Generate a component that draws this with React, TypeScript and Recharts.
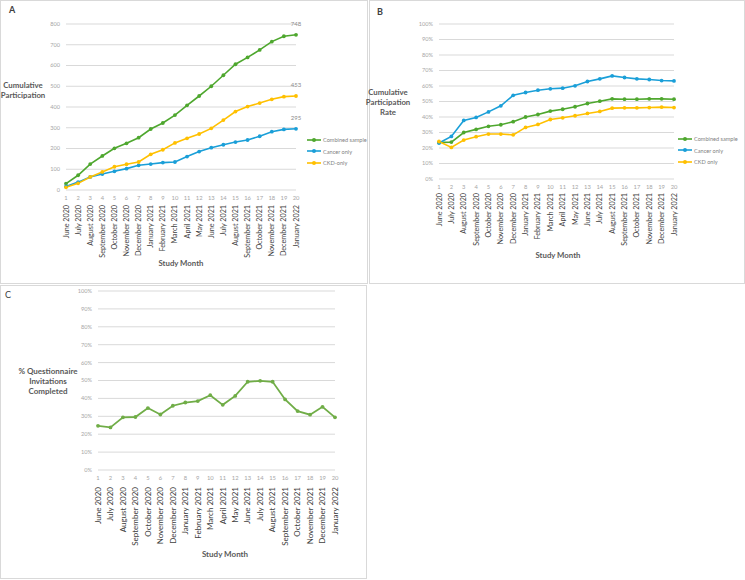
import React from 'react';
import { LineChart, Line, XAxis, YAxis, CartesianGrid, LabelList } from 'recharts';

const studyMonths = [1, 2, 3, 4, 5, 6, 7, 8, 9, 10, 11, 12, 13, 14, 15, 16, 17, 18, 19, 20];
const monthNames = [
  'June 2020', 'July 2020', 'August 2020', 'September 2020', 'October 2020', 'November 2020',
  'December 2020', 'January 2021', 'February 2021', 'March 2021', 'April 2021', 'May 2021',
  'June 2021', 'July 2021', 'August 2021', 'September 2021', 'October 2021', 'November 2021',
  'December 2021', 'January 2022',
];

// Panel A - cumulative participants
const combinedCumulative = [31, 71, 125, 164, 201, 225, 252, 294, 323, 361, 408, 453, 500, 553, 606, 639, 675, 715, 741, 748];
const cancerCumulative = [17, 38, 63, 77, 90, 103, 119, 125, 132, 135, 161, 185, 204, 218, 231, 241, 259, 281, 292, 295];
const ckdCumulative = [13, 32, 63, 87, 112, 124, 135, 172, 194, 227, 249, 270, 297, 337, 378, 402, 419, 437, 450, 453];
const countTicks = [0, 100, 200, 300, 400, 500, 600, 700, 800];

// Panel B - cumulative participation rate (%)
const combinedRate = [23.6, 23.8, 30, 32, 34, 35, 37, 40, 41.6, 43.8, 45, 46.6, 48.7, 50.2, 51.7, 51.5, 51.5, 51.7, 51.7, 51.5];
const cancerRate = [23.2, 27.5, 37.8, 39.7, 43.3, 47.2, 54, 55.8, 57.3, 58.2, 58.6, 60.1, 62.9, 64.6, 66.5, 65.5, 64.6, 64.2, 63.5, 63.3];
const ckdRate = [24.2, 20.4, 25.1, 27.3, 29, 29, 28.5, 33.3, 35.2, 38.4, 39.5, 40.8, 42.3, 43.6, 45.7, 45.9, 45.9, 46.1, 46.4, 46.1];

// Panel C - % questionnaire invitations completed
const completedPct = [24.7, 23.8, 29.4, 29.6, 34.6, 31, 35.9, 37.7, 38.5, 41.8, 36.4, 41.4, 49.3, 49.8, 49.3, 39.4, 32.9, 30.9, 35.3, 29.4];
const pctTicks = [0, 10, 20, 30, 40, 50, 60, 70, 80, 90, 100];

const seriesNames = ['Combined sample', 'Cancer only', 'CKD only'];
const seriesNamesA = ['Combined sample', 'Cancer only', 'CKD-only'];

const GREEN = '#4ea72e';
const BLUE = '#1a9fd8';
const YELLOW = '#ffc000';
const GREEN_C = '#70ad47';
const GRID = '#d9d9d9';
const TITLE = '#595959';
const FONT = 'Lato, "Open Sans", sans-serif';

const dataA = studyMonths.map((m, i) => ({
  m, combined: combinedCumulative[i], cancer: cancerCumulative[i], ckd: ckdCumulative[i],
}));
const dataB = studyMonths.map((m, i) => ({
  m, combined: combinedRate[i], cancer: cancerRate[i], ckd: ckdRate[i],
}));
const dataC = studyMonths.map((m, i) => ({ m, completed: completedPct[i] }));

const MonthTick = (props: any) => {
  const { x, y, payload, index, numGap, monthGap, fs } = props;
  const my = y + monthGap;
  return (
    <g>
      <text x={x} y={y + numGap} textAnchor="middle" dy="0.35em" fontSize={5.8} fill="#a6a6a6" fontFamily={FONT}>
        {payload.value}
      </text>
      <text
        x={x}
        y={my}
        transform={`rotate(-90 ${x} ${my})`}
        textAnchor="end"
        dy="0.35em"
        fontSize={fs}
        fill="#404040"
        fontFamily={FONT}
      >
        {monthNames[index]}
      </text>
    </g>
  );
};

const yTick = (fmt: (v: number) => string) => (props: any) => {
  const { x, y, payload } = props;
  return (
    <text x={x} y={y} textAnchor="end" dy="0.35em" fontSize={5.6} fill="#a6a6a6" fontFamily={FONT}>
      {fmt(payload.value)}
    </text>
  );
};

const lastLabel = (props: any) => {
  const { x, y, value, index } = props;
  if (index !== studyMonths.length - 1) return null;
  return (
    <text x={x} y={y - 9} textAnchor="middle" fontSize={6} fill="#8c8c8c" fontFamily={FONT}>
      {value}
    </text>
  );
};

const Abs: React.FC<{ x: number; y: number; style?: React.CSSProperties; children: React.ReactNode }> = ({ x, y, style, children }) => (
  <div style={{ position: 'absolute', left: x, top: y, fontFamily: FONT, ...style }}>{children}</div>
);

const CenterText: React.FC<{ cx: number; cy: number; lines: string[]; size: number; lh: number }> = ({ cx, cy, lines, size, lh }) => (
  <div
    style={{
      position: 'absolute', left: cx - 60, top: cy - (lh * lines.length) / 2, width: 120, textAlign: 'center',
      fontFamily: FONT, fontWeight: 700, fontSize: size, lineHeight: `${lh}px`, color: TITLE,
    }}
  >
    {lines.map((l) => <div key={l}>{l}</div>)}
  </div>
);

const LegendBox: React.FC<{ x: number; y: number; names: string[] }> = ({ x, y, names }) => {
  const colors = [GREEN, BLUE, YELLOW];
  return (
    <Abs x={x} y={y}>
      {names.map((n, i) => (
        <div key={n} style={{ display: 'flex', alignItems: 'center', height: 11.5 }}>
          <svg width={14} height={6} style={{ marginRight: 2 }}>
            <line x1={0} y1={3} x2={14} y2={3} stroke={colors[i]} strokeWidth={1.6} />
            <circle cx={7} cy={3} r={2} fill={colors[i]} />
          </svg>
          <span style={{ fontSize: 5.6, color: '#7f7f7f', whiteSpace: 'nowrap' }}>{n}</span>
        </div>
      ))}
    </Abs>
  );
};

const panelBox = (x: number, y: number, w: number, h: number): React.CSSProperties => ({
  position: 'absolute', left: x, top: y, width: w, height: h,
  border: `1px solid ${GRID}`, boxSizing: 'border-box',
});

export default function App() {
  return (
    <div style={{ position: 'absolute', left: 0, top: 0, width: 745, height: 580, background: '#fff', overflow: 'hidden' }}>
      {/* Panel A */}
      <div style={panelBox(0, 0, 368, 284)} />
      <div style={{ position: 'absolute', left: 0, top: 0 }}>
        <LineChart width={367} height={283} data={dataA} margin={{ top: 24, right: 71, bottom: 0, left: 0 }}>
          <CartesianGrid vertical={false} stroke={GRID} />
          <XAxis
            dataKey="m" height={93} interval={0} axisLine={false} tickLine={false} tickSize={0} tickMargin={0}
            tick={<MonthTick numGap={8} monthGap={15} fs={7.2} />}
          />
          <YAxis
            width={66} domain={[0, 800]} ticks={countTicks} interval={0} axisLine={false} tickLine={false}
            tickSize={0} tickMargin={6} tick={yTick((v) => `${v}`)}
          />
          <Line dataKey="combined" stroke={GREEN} strokeWidth={1.6} dot={{ r: 1.9, fill: GREEN, stroke: 'none' }} isAnimationActive={false}>
            <LabelList dataKey="combined" content={lastLabel} />
          </Line>
          <Line dataKey="cancer" stroke={BLUE} strokeWidth={1.6} dot={{ r: 1.9, fill: BLUE, stroke: 'none' }} isAnimationActive={false}>
            <LabelList dataKey="cancer" content={lastLabel} />
          </Line>
          <Line dataKey="ckd" stroke={YELLOW} strokeWidth={1.6} dot={{ r: 1.9, fill: YELLOW, stroke: 'none' }} isAnimationActive={false}>
            <LabelList dataKey="ckd" content={lastLabel} />
          </Line>
        </LineChart>
      </div>
      <Abs x={9} y={4} style={{ fontSize: 9, fontWeight: 700, color: '#404040' }}>A</Abs>
      <CenterText cx={23} cy={90} lines={['Cumulative', 'Participation']} size={7.8} lh={10} />
      <CenterText cx={181} cy={263} lines={['Study Month']} size={7.8} lh={10} />
      <LegendBox x={307} y={134} names={seriesNamesA} />

      {/* Panel B */}
      <div style={panelBox(369, 0, 376, 284)} />
      <div style={{ position: 'absolute', left: 370, top: 0 }}>
        <LineChart width={375} height={283} data={dataB} margin={{ top: 24, right: 71, bottom: 0, left: 0 }}>
          <CartesianGrid vertical={false} stroke={GRID} />
          <XAxis
            dataKey="m" height={104} interval={0} axisLine={false} tickLine={false} tickSize={0} tickMargin={0}
            tick={<MonthTick numGap={8} monthGap={14} fs={7.2} />}
          />
          <YAxis
            width={69} domain={[0, 100]} ticks={pctTicks} interval={0} axisLine={false} tickLine={false}
            tickSize={0} tickMargin={6} tick={yTick((v) => `${v}%`)}
          />
          <Line dataKey="combined" stroke={GREEN} strokeWidth={1.6} dot={{ r: 1.9, fill: GREEN, stroke: 'none' }} isAnimationActive={false} />
          <Line dataKey="cancer" stroke={BLUE} strokeWidth={1.6} dot={{ r: 1.9, fill: BLUE, stroke: 'none' }} isAnimationActive={false} />
          <Line dataKey="ckd" stroke={YELLOW} strokeWidth={1.6} dot={{ r: 1.9, fill: YELLOW, stroke: 'none' }} isAnimationActive={false} />
        </LineChart>
      </div>
      <Abs x={377} y={6} style={{ fontSize: 9, fontWeight: 700, color: '#404040' }}>B</Abs>
      <CenterText cx={388} cy={102} lines={['Cumulative', 'Participation', 'Rate']} size={7.8} lh={10} />
      <CenterText cx={558} cy={255} lines={['Study Month']} size={7.8} lh={10} />
      <LegendBox x={678} y={133} names={seriesNames} />

      {/* Panel C */}
      <div style={panelBox(0, 285, 367, 294)} />
      <div style={{ position: 'absolute', left: 0, top: 285 }}>
        <LineChart width={367} height={294} data={dataC} margin={{ top: 6, right: 32, bottom: 0, left: 0 }}>
          <CartesianGrid vertical={false} stroke={GRID} />
          <XAxis
            dataKey="m" height={109} interval={0} axisLine={false} tickLine={false} tickSize={0} tickMargin={0}
            tick={<MonthTick numGap={8} monthGap={17} fs={8} />}
          />
          <YAxis
            width={98} domain={[0, 100]} ticks={pctTicks} interval={0} axisLine={false} tickLine={false}
            tickSize={0} tickMargin={6} tick={yTick((v) => `${v}%`)}
          />
          <Line dataKey="completed" stroke={GREEN_C} strokeWidth={1.8} dot={{ r: 1.9, fill: GREEN_C, stroke: 'none' }} isAnimationActive={false} />
        </LineChart>
      </div>
      <Abs x={5} y={289} style={{ fontSize: 9, color: '#404040' }}>C</Abs>
      <CenterText cx={48} cy={381} lines={['% Questionnaire', 'Invitations', 'Completed']} size={8} lh={10} />
      <CenterText cx={225} cy={554} lines={['Study Month']} size={8} lh={10} />
    </div>
  );
}
